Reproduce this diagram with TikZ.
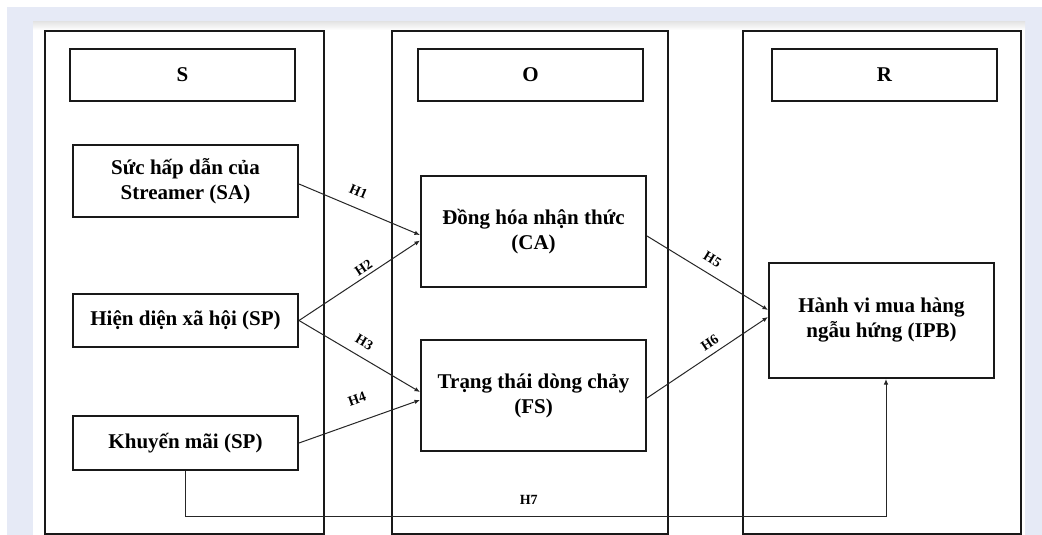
\documentclass[tikz,border=0pt]{standalone}
\usepackage{fontspec}
\setmainfont{Liberation Serif}
\usetikzlibrary{arrows.meta}
\definecolor{bgblue}{RGB}{230,234,246}
\tikzset{
  colframe/.style={draw=black!90, line width=2pt},
  hdr/.style={draw=black!90, line width=2pt, minimum width=225pt, minimum height=52pt, inner sep=0pt, font=\fontsize{21}{25}\selectfont\bfseries},
  box/.style={draw=black!90, line width=2pt, minimum width=225pt, inner sep=0pt, align=center, font=\fontsize{21}{25}\selectfont\bfseries},
  link/.style={draw=black!85, line width=1pt, -{Latex[length=5.5pt,width=4.5pt]}},
  lbl/.style={font=\fontsize{14}{14}\selectfont\bfseries, inner sep=1pt},
}
\begin{document}
\begin{tikzpicture}[x=1pt,y=-1pt]
\useasboundingbox (0,0) rectangle (1042,535);
% background
\fill[white] (0,0) rectangle (1042,535);
\fill[bgblue] (7,7) rectangle (1042,535);
\fill[white] (33,22) rectangle (1025,535);
\shade[top color=black!10, bottom color=white] (33,22) rectangle (1025,30);
% columns (frames)
\draw[colframe] (45,31) rectangle (324,533.5);
\draw[colframe] (392,31) rectangle (668,533.5);
\draw[colframe] (743,31) rectangle (1021,533.5);
% headers
\node[hdr] (hS) at (182.5,75) {S};
\node[hdr] (hO) at (530.5,75) {O};
\node[hdr] (hR) at (884.5,75) {R};
% boxes
\node[box, minimum height=72pt] (SA) at (185.5,181) {Sức hấp dẫn của\\Streamer (SA)};
\node[box, minimum height=53pt] (SP) at (185.5,320.5) {Hiện diện xã hội (SP)};
\node[box, minimum height=54pt] (KM) at (185.5,443) {Khuyến mãi (SP)};
\node[box, minimum height=111pt] (CA) at (533.5,231.5) {Đồng hóa nhận thức\\(CA)};
\node[box, minimum height=111pt] (FS) at (533.5,395.5) {Trạng thái dòng chảy\\(FS)};
\node[box, minimum height=115pt] (IPB) at (881.5,320.5) {Hành vi mua hàng\\ngẫu hứng (IPB)};
% links
\draw[link] ([yshift=-3pt]SA.east) -- node[lbl, sloped, above=10pt, pos=0.44] {H1} ([yshift=-3.5pt]CA.west);
\draw[link] (SP.east) -- node[lbl, sloped, above=2pt, pos=0.57] {H2} ([yshift=-9pt]CA.west);
\draw[link] (SP.east) -- node[lbl, sloped, above=8pt, pos=0.48] {H3} ([yshift=3.5pt]FS.west);
\draw[link] (KM.east) -- node[lbl, sloped, above=16pt, pos=0.54] {H4} ([yshift=-4.5pt]FS.west);
\draw[link] ([yshift=-4.5pt]CA.east) -- node[lbl, sloped, above=8pt, pos=0.48] {H5} ([yshift=10.5pt]IPB.west);
\draw[link] ([yshift=-2.5pt]FS.east) -- node[lbl, sloped, above=5pt, pos=0.57] {H6} ([yshift=3.5pt]IPB.west);
\coordinate (h7a) at (185.5,516);
\coordinate (h7b) at (886,516);
\draw[link] (KM.south) -- (h7a) -- node[lbl, above=10pt, pos=0.49] {H7} (h7b) -- (h7b |- IPB.south);
\end{tikzpicture}
\end{document}
